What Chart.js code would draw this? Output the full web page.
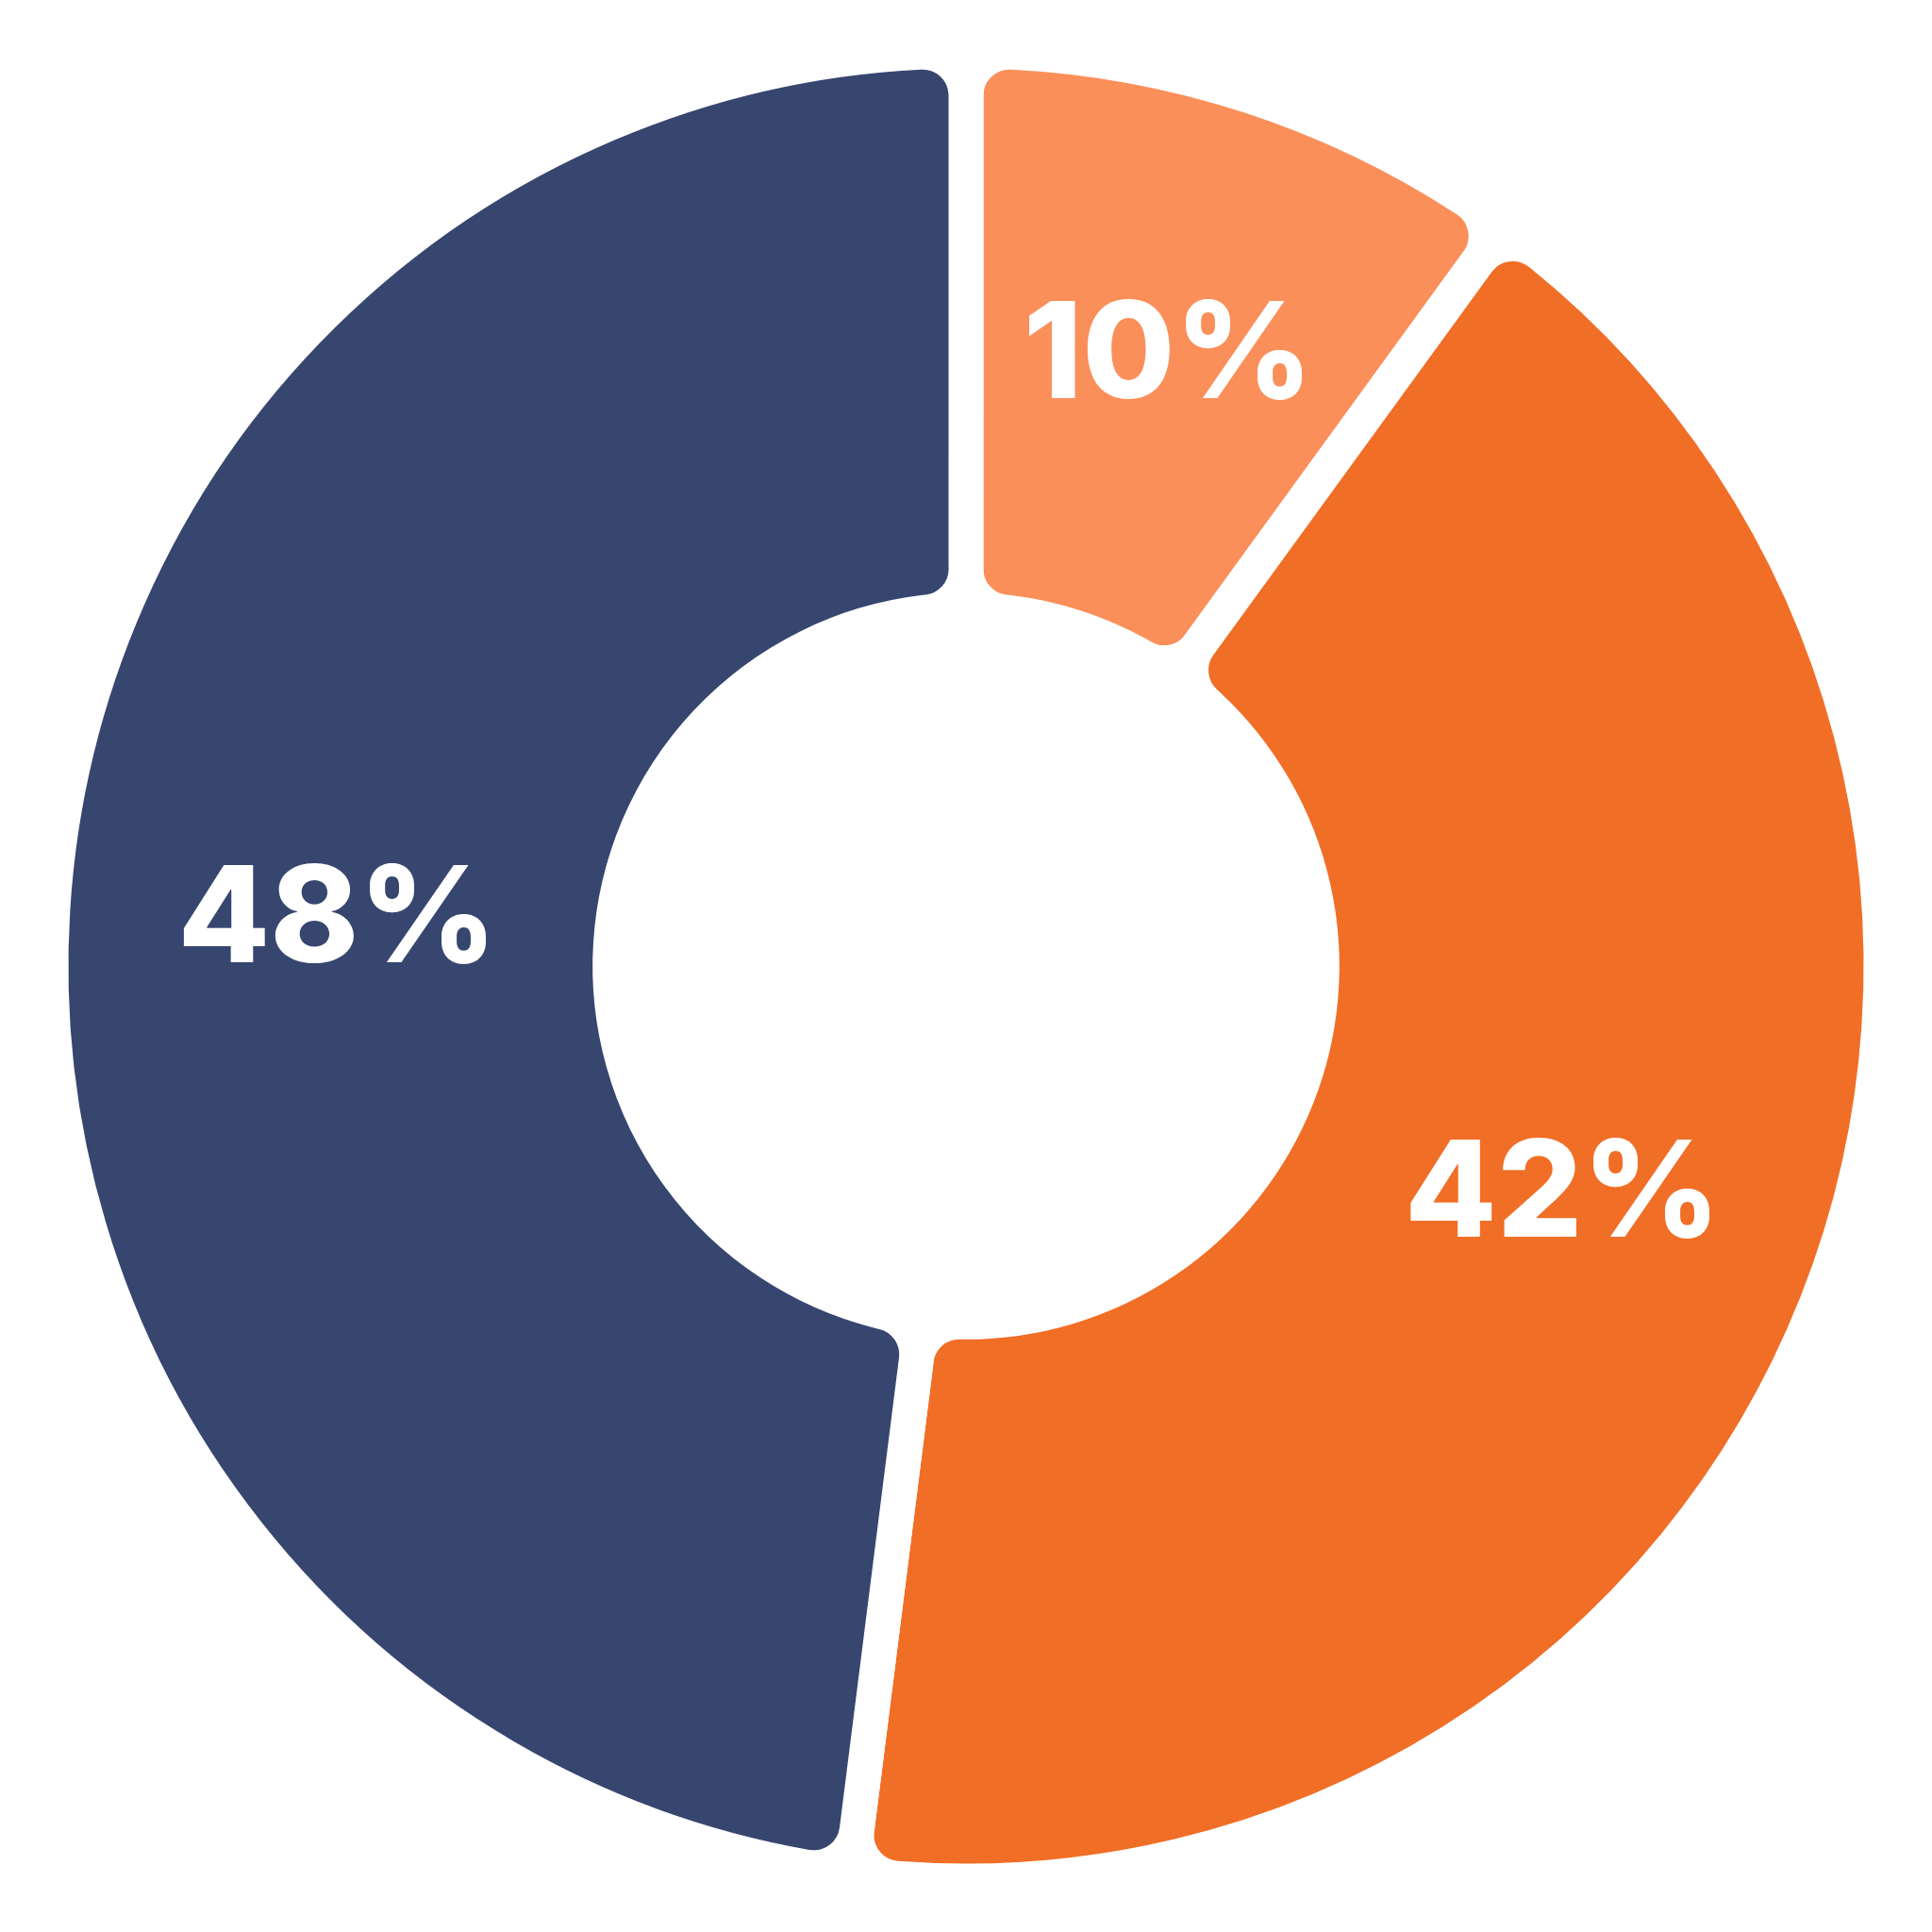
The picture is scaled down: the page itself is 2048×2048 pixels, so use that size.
<!DOCTYPE html>
<html>
<head>
<meta charset="utf-8">
<script src="https://cdn.jsdelivr.net/npm/chart.js@4"></script>
<style>
  html, body { margin: 0; padding: 0; background: #ffffff; }
  #wrap { width: 2048px; height: 2048px; }
</style>
</head>
<body>
<div id="wrap"><canvas id="donut" width="2048" height="2048"></canvas></div>
<script>
// data, clockwise from 12 o'clock
var labels = ["10%", "42%", "48%"]
var values = [10, 42, 48]
var colors = ["#FA8F5A", "#F16E26", "#37466F"]

ctx = document.getElementById("donut").getContext('2d');

// write the percent inside each slice
var sliceLabels = {
  id: "sliceLabels",
  afterDatasetsDraw: function(chart) {
    var c = chart.ctx
    var meta = chart.getDatasetMeta(0)
    c.save()
    c.fillStyle = "#ffffff"
    c.font = "800 142px Inter"
    c.textAlign = "center"
    c.textBaseline = "middle"
    meta.data.forEach(function(arc, i) {
      var p = arc.tooltipPosition()
      c.fillText(labels[i], p.x + 6, p.y - 4)
    })
    c.restore()
  }
}

var donut = new Chart(ctx, {
  type: "doughnut",
  data: {
    labels: labels,
    datasets: [
      {
        data: values,
        backgroundColor: colors,
        borderColor: "#ffffff",
        borderWidth: 37,
        borderAlign: "center",
        borderRadius: 46,
        hoverOffset: 0
      }
    ]
  },
  options: {
    responsive: false,
    animation: false,
    events: [],
    cutout: "38.9%",
    layout: { padding: 35.5 },
    plugins: {
      legend: { display: false },
      tooltip: { enabled: false }
    }
  },
  plugins: [sliceLabels]
});
</script>
</body>
</html>
